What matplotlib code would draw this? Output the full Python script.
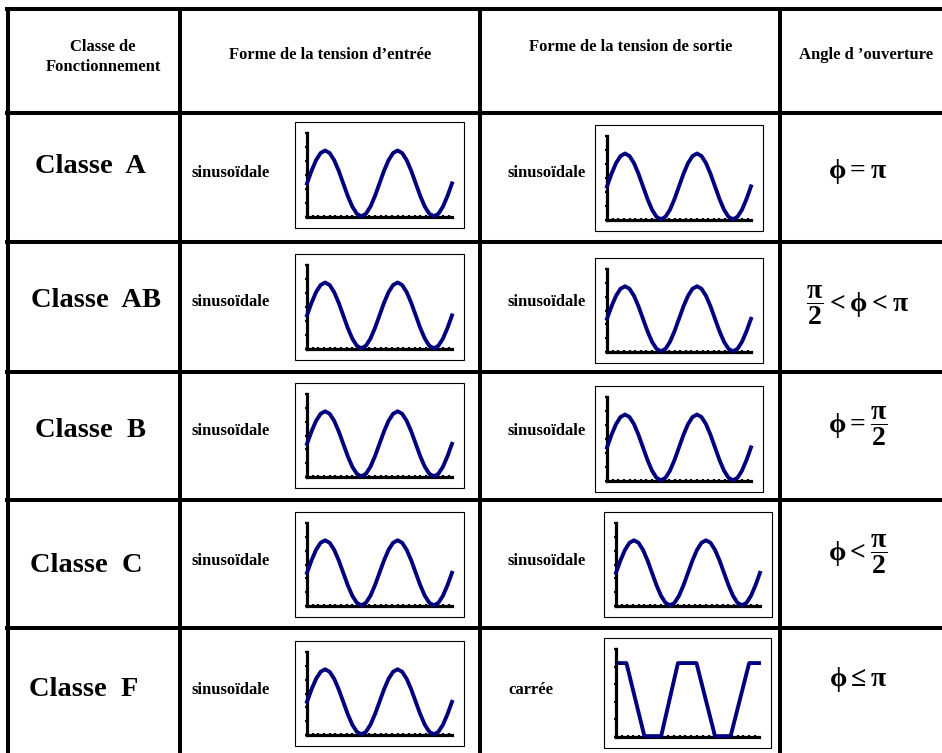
import matplotlib
matplotlib.use("Agg")
import matplotlib.pyplot as plt
from matplotlib.patches import Rectangle

plt.rcParams["font.family"] = ["Liberation Serif", "DejaVu Serif"]
plt.rcParams["mathtext.fontset"] = "custom"
plt.rcParams["mathtext.rm"] = "Liberation Serif:bold"
plt.rcParams["mathtext.it"] = "Liberation Serif:bold"
plt.rcParams["mathtext.bf"] = "Liberation Serif:bold"

W, H = 942, 753
NAVY = "#00007f"

HEADERS = ["Classe de\nFonctionnement", "Forme de la tension d\u2019entrée",
           "Forme de la tension de sortie", "Angle d \u2019ouverture"]
CLASSES = ["Classe  A", "Classe  AB", "Classe  B", "Classe  C", "Classe  F"]
IN_FORMS = ["sinusoïdale", "sinusoïdale", "sinusoïdale", "sinusoïdale", "sinusoïdale"]
OUT_FORMS = ["sinusoïdale", "sinusoïdale", "sinusoïdale", "sinusoïdale", "carrée"]
OUT_WAVES = ["sin", "sin", "sin", "sin", "square"]
ANGLES = [r"$\phi = \pi$", r"$\dfrac{\pi}{2} < \phi < \pi$", r"$\phi = \dfrac{\pi}{2}$",
          r"$\phi < \dfrac{\pi}{2}$", r"$\phi \leq \pi$"]

SINE_T = [0, 0.8, 1.6, 2.4, 3.2, 4.0, 4.8, 5.6, 6.4, 7.2, 8.0, 8.8, 9.6, 10.4, 11.2, 12.0,
          12.8, 13.6, 14.4, 15.2, 16.0, 16.8, 17.6, 18.4, 19.2, 20.0, 20.8, 21.6, 22.4,
          23.2, 24.0, 24.8, 25.6]
SINE_V = [2.40, 3.30, 4.06, 4.57, 4.75, 4.57, 4.06, 3.30, 2.40, 1.50, 0.74, 0.23, 0.05,
          0.23, 0.74, 1.50, 2.40, 3.30, 4.06, 4.57, 4.75, 4.57, 4.06, 3.30, 2.40, 1.50,
          0.74, 0.23, 0.05, 0.23, 0.74, 1.50, 2.40]
# signal carré (classe F)
SQ_T = [0.6, 1.8, 4.9, 7.8, 10.7, 13.9, 17.1, 19.8, 23.0, 24.7]
SQ_V = [4.2, 4.2, 0.05, 0.05, 4.2, 4.2, 0.05, 0.05, 4.2, 4.2]

# mise en page (pixels, y vers le bas)
H_LINES = [9, 113, 242, 372, 500, 628]
V_LINES = [8, 180, 480, 780]
LABEL_X = [35, 31, 35, 30, 29]
LABEL_Y = [166, 300, 430, 566, 689]
FORM_Y = [173, 302, 431, 561, 690]
ANGLE_Y = [171, 305, 426, 554, 680]
IN_BOX = [(295, 122, 464, 228), (295, 254, 464, 360), (295, 383, 464, 488),
          (295, 512, 464, 617), (295, 641, 464, 746)]
OUT_BOX = [(595, 125, 763, 231), (595, 258, 763, 363), (595, 386, 763, 492),
           (604, 512, 772, 617), (604, 638, 771, 748)]

fig = plt.figure(figsize=(W / 100, H / 100), dpi=100)
ax = fig.add_axes([0, 0, 1, 1])
ax.set_xlim(0, W); ax.set_ylim(H, 0); ax.axis("off")

for y in H_LINES:
    ax.plot([5, W], [y, y], color="black", lw=2.9, solid_capstyle="butt")
for x in V_LINES:
    ax.plot([x, x], [7, H], color="black", lw=2.9, solid_capstyle="butt")

hdr = dict(fontsize=12, fontweight="bold", ha="center", va="center")
ax.text(103, 57, HEADERS[0], linespacing=1.3, **hdr)
ax.text(330, 55, HEADERS[1], **hdr)
ax.text(631, 47, HEADERS[2], **hdr)
ax.text(866, 55, HEADERS[3], **hdr)


def mini_plot(box, t, v, ymax, xmax):
    x0, y0, x1, y1 = box
    ax.add_patch(Rectangle((x0, y0), x1 - x0, y1 - y0, fill=False, lw=0.8, ec="black"))
    l, r, top, bot = x0 + 12, x1 - 12, y0 + 11, y1 - 11
    m = fig.add_axes([l / W, 1 - bot / H, (r - l) / W, (bot - top) / H])
    m.plot(t, v, color=NAVY, lw=2.8, clip_on=False, zorder=3)
    m.set_xlim(0, xmax); m.set_ylim(0, ymax)
    m.set_xticks(range(int(xmax) + 1)); m.set_yticks(range(ymax + 1))
    m.tick_params(direction="inout", length=3, width=1.6, labelbottom=False, labelleft=False)
    for s in ("top", "right"):
        m.spines[s].set_visible(False)
    for s in ("left", "bottom"):
        m.spines[s].set_linewidth(2.3)
    m.patch.set_alpha(0)


for i in range(5):
    ax.text(LABEL_X[i], LABEL_Y[i], CLASSES[i], fontsize=20.5, fontweight="bold", va="center")
    ax.text(191, FORM_Y[i], IN_FORMS[i], fontsize=12, fontweight="bold", va="center")
    ax.text(508, FORM_Y[i], OUT_FORMS[i], fontsize=12, fontweight="bold", va="center")
    ax.text(858, ANGLE_Y[i], ANGLES[i], fontsize=20, ha="center", va="center")
    mini_plot(IN_BOX[i], SINE_T, SINE_V, 6, 25.6)
    if OUT_WAVES[i] == "sin":
        mini_plot(OUT_BOX[i], SINE_T, SINE_V, 6, 25.6)
    else:
        mini_plot(OUT_BOX[i], SQ_T, SQ_V, 5, 24.7)

fig.savefig("out.png", dpi=100)
